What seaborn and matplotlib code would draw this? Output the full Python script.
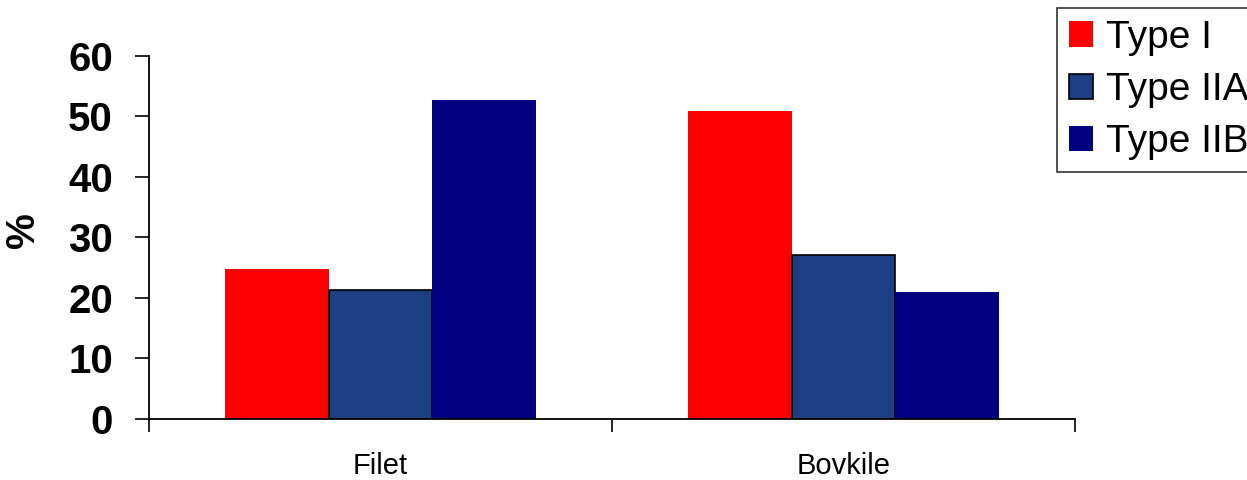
import matplotlib
matplotlib.use("Agg")
import matplotlib.pyplot as plt
import seaborn as sns
import pandas as pd
from matplotlib.ticker import FixedLocator, NullFormatter, FixedFormatter

# Fibre type distribution (%) per muscle
muscles = ["Filet", "Bovkile"]
fibre_types = ["Type I", "Type IIA", "Type IIB"]
type_i = [24.7, 50.9]
type_iia = [21.3, 27.1]
type_iib = [52.6, 21.0]
y_ticks = [0, 10, 20, 30, 40, 50, 60]

colors = {"Type I": "#FF0000", "Type IIA": "#1B3F82", "Type IIB": "#000080"}

rows = []
for t, vals in zip(fibre_types, [type_i, type_iia, type_iib]):
    for m, v in zip(muscles, vals):
        rows.append({"muscle": m, "type": t, "pct": v})
df = pd.DataFrame(rows)

sns.set_style("white")
plt.rcParams["font.family"] = ["Liberation Sans", "DejaVu Sans"]
plt.rcParams["text.color"] = "black"
plt.rcParams["xtick.color"] = "black"
plt.rcParams["ytick.color"] = "black"
plt.rcParams["axes.labelcolor"] = "black"

fig = plt.figure(figsize=(12.47, 4.8), dpi=100)
ax = fig.add_axes([149 / 1247, 1 - 418.7 / 480, (1075 - 149) / 1247, (418.7 - 55.7) / 480])

sns.barplot(data=df, x="muscle", y="pct", hue="type", order=muscles,
            hue_order=fibre_types, palette=colors, width=0.67,
            saturation=1, linewidth=0, edgecolor="none", ax=ax, legend=True)

# Only the Type IIA bars carry a dark outline
for bar in ax.containers[1]:
    bar.set_edgecolor("black")
    bar.set_linewidth(1.2)

ax.set_xlim(-0.5, 1.5)
ax.set_ylim(0, 60)
ax.set_yticks(y_ticks)
ax.set_yticklabels([str(v) for v in y_ticks], fontsize=29, fontweight="bold")

# Category boundaries get the tick marks, names sit between them
ax.xaxis.set_major_locator(FixedLocator([-0.5, 0.5, 1.5]))
ax.xaxis.set_major_formatter(NullFormatter())
ax.xaxis.set_minor_locator(FixedLocator([0, 1]))
ax.xaxis.set_minor_formatter(FixedFormatter(muscles))
ax.tick_params(axis="x", which="major", direction="out", length=9, width=1.2,
               color="black", bottom=True)
ax.tick_params(axis="x", which="minor", length=0, pad=24, labelsize=21,
               labelcolor="black", bottom=True)
ax.tick_params(axis="y", direction="out", length=10, width=1.2, color="black",
               labelcolor="black", pad=16, left=True)

ax.set_xlabel("")
ax.set_ylabel("%", fontsize=29, fontweight="bold", va="center", color="black")
ax.yaxis.set_label_coords((23 - 149) / 926, 0.52)

for side in ["top", "right"]:
    ax.spines[side].set_visible(False)
for side in ["left", "bottom"]:
    ax.spines[side].set_color("black")
    ax.spines[side].set_linewidth(1.3)

handles, labels = ax.get_legend_handles_labels()
handles[1].set_edgecolor("black")
handles[1].set_linewidth(1.2)
ax.legend_.remove()
leg = fig.legend(handles, labels, loc="upper left",
                 bbox_to_anchor=(1057 / 1247, 1 - 8 / 480), borderaxespad=0,
                 fontsize=28, frameon=True, fancybox=False, edgecolor="black",
                 handlelength=0.62, handleheight=0.62, handletextpad=0.35,
                 labelspacing=0.42, borderpad=0.3)
leg.get_frame().set_linewidth(1.2)
for txt in leg.get_texts():
    txt.set_color("black")

fig.savefig("out.png", dpi=100)
